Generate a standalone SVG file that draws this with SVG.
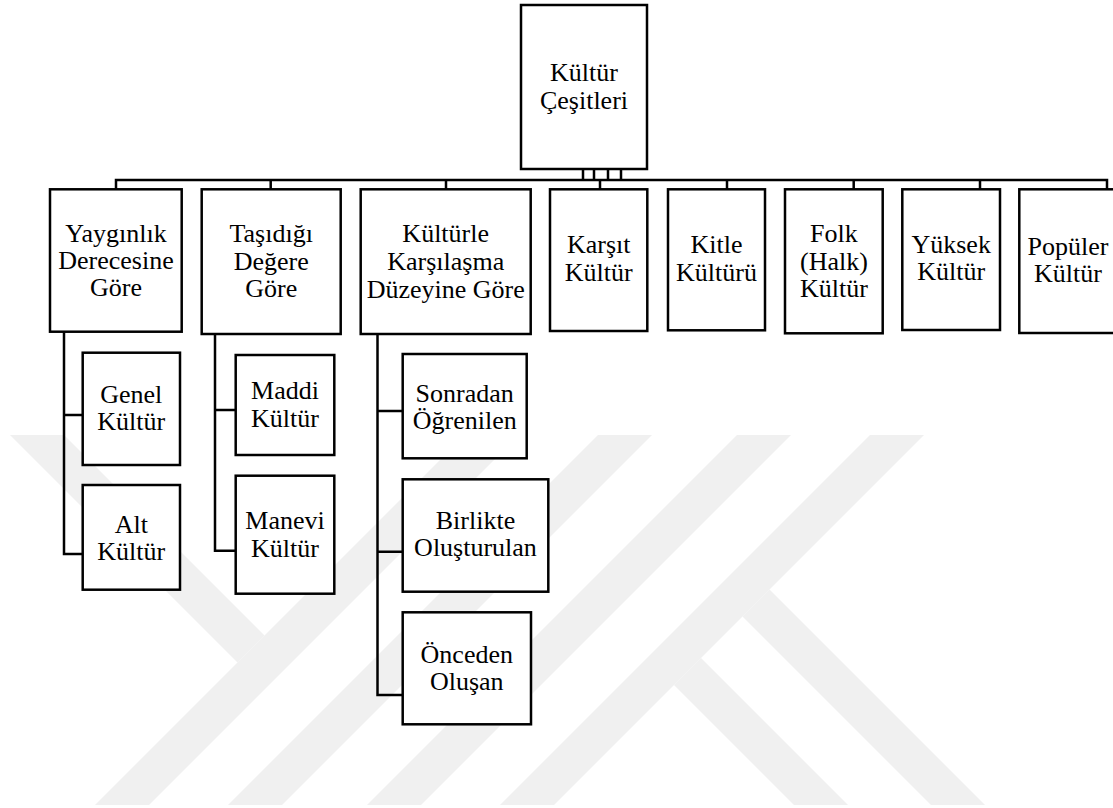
<svg xmlns="http://www.w3.org/2000/svg" width="1113" height="808" viewBox="0 0 1113 808">
<style>
.box{fill:#fff;stroke:#000;stroke-width:2.5}
.ln{fill:none;stroke:#000;stroke-width:2.5}
.t{font-size:26px;fill:#000;text-anchor:middle}
.wm{fill:#f0f0f0}
</style>
<rect x="0" y="0" width="1113" height="808" fill="#fff"/>
<g id="watermark">
<polygon class="wm" points="10,435 64,435 264.5,635.5 237.5,662.5"/>
<polygon class="wm" points="465,435 519,435 149,805 95,805"/>
<polygon class="wm" points="598,435 652,435 282,805 228,805"/>
<polygon class="wm" points="737,435 791,435 421,805 367,805"/>
<polygon class="wm" points="870,435 924,435 554,805 500,805"/>
<polygon class="wm" points="769.5,589.5 985,805 931,805 742.5,616.5"/>
<polygon class="wm" points="701,658 848,805 794,805 674,685"/>
</g>
<g id="connectors" class="ln">
<path d="M583,169V180M594,169V180M608,169V180M621,169V180"/>
<path d="M116,189V180H1107V189"/>
<path d="M270.7,180V189M446,180V189M600,180V189M727,180V189M853.7,180V189M980,180V189"/>
<path d="M64,332V554H82.7M64,415H82.7"/>
<path d="M215,334V550.7H236M215,410H236"/>
<path d="M377.5,334V695H402.7M377.5,411H402.7M377.5,551.7H402.7"/>
</g>
<g font-family="Liberation Serif, Times New Roman, serif" style="font-family:Liberation Serif, serif">
<g id="root">
<rect class="box" x="521" y="5" width="126" height="164"/>
<text class="t" x="584" y="81">Kültür</text>
<text class="t" x="584" y="109">Çeşitleri</text>
</g>
<g id="yayginlik">
<rect class="box" x="50" y="189.3" width="131.7" height="142.4"/>
<text class="t" x="116" y="241.7">Yaygınlık</text>
<text class="t" x="116" y="269.3">Derecesine</text>
<text class="t" x="116" y="296">Göre</text>
</g>
<g id="tasidigi">
<rect class="box" x="201.7" y="189.3" width="139" height="144.7"/>
<text class="t" x="271.2" y="241.7">Taşıdığı</text>
<text class="t" x="271.2" y="270">Değere</text>
<text class="t" x="271.2" y="296.7">Göre</text>
</g>
<g id="kulturle">
<rect class="box" x="360.7" y="189.3" width="170" height="144.7"/>
<text class="t" x="445.7" y="241.7">Kültürle</text>
<text class="t" x="445.7" y="270">Karşılaşma</text>
<text class="t" x="445.7" y="297.7">Düzeyine Göre</text>
</g>
<g id="karsit">
<rect class="box" x="550" y="189.3" width="97.3" height="141.7"/>
<text class="t" x="598.7" y="253.3">Karşıt</text>
<text class="t" x="598.7" y="280.7">Kültür</text>
</g>
<g id="kitle">
<rect class="box" x="668" y="189.3" width="97" height="141"/>
<text class="t" x="716.5" y="253.3">Kitle</text>
<text class="t" x="716.5" y="280.7">Kültürü</text>
</g>
<g id="folk">
<rect class="box" x="785" y="189.3" width="97.7" height="144"/>
<text class="t" x="833.9" y="241.7">Folk</text>
<text class="t" x="833.9" y="270">(Halk)</text>
<text class="t" x="833.9" y="296.7">Kültür</text>
</g>
<g id="yuksek">
<rect class="box" x="902.3" y="189.3" width="97.7" height="140.7"/>
<text class="t" x="951.2" y="253.3">Yüksek</text>
<text class="t" x="951.2" y="280">Kültür</text>
</g>
<g id="populer">
<rect class="box" x="1019.3" y="189.3" width="98" height="143.7"/>
<text class="t" x="1068" y="255">Popüler</text>
<text class="t" x="1068" y="281.7">Kültür</text>
</g>
<g id="genel">
<rect class="box" x="82.7" y="352.7" width="97.3" height="112.3"/>
<text class="t" x="131.3" y="402.7">Genel</text>
<text class="t" x="131.3" y="430">Kültür</text>
</g>
<g id="alt">
<rect class="box" x="82.7" y="485" width="97.3" height="104.7"/>
<text class="t" x="131.3" y="533.3">Alt</text>
<text class="t" x="131.3" y="560">Kültür</text>
</g>
<g id="maddi">
<rect class="box" x="235.7" y="355" width="98.6" height="100"/>
<text class="t" x="285" y="399.3">Maddi</text>
<text class="t" x="285" y="426.7">Kültür</text>
</g>
<g id="manevi">
<rect class="box" x="235.7" y="475.7" width="98.6" height="118"/>
<text class="t" x="285" y="529.3">Manevi</text>
<text class="t" x="285" y="556.7">Kültür</text>
</g>
<g id="sonradan">
<rect class="box" x="402.7" y="354" width="124" height="104.3"/>
<text class="t" x="464.7" y="401.7">Sonradan</text>
<text class="t" x="464.7" y="429">Öğrenilen</text>
</g>
<g id="birlikte">
<rect class="box" x="402.7" y="479.3" width="145.6" height="112.4"/>
<text class="t" x="475.5" y="529.3">Birlikte</text>
<text class="t" x="475.5" y="556">Oluşturulan</text>
</g>
<g id="onceden">
<rect class="box" x="402.7" y="612.3" width="128.3" height="112"/>
<text class="t" x="466.8" y="662.7">Önceden</text>
<text class="t" x="466.8" y="690">Oluşan</text>
</g>
</g>
</svg>
